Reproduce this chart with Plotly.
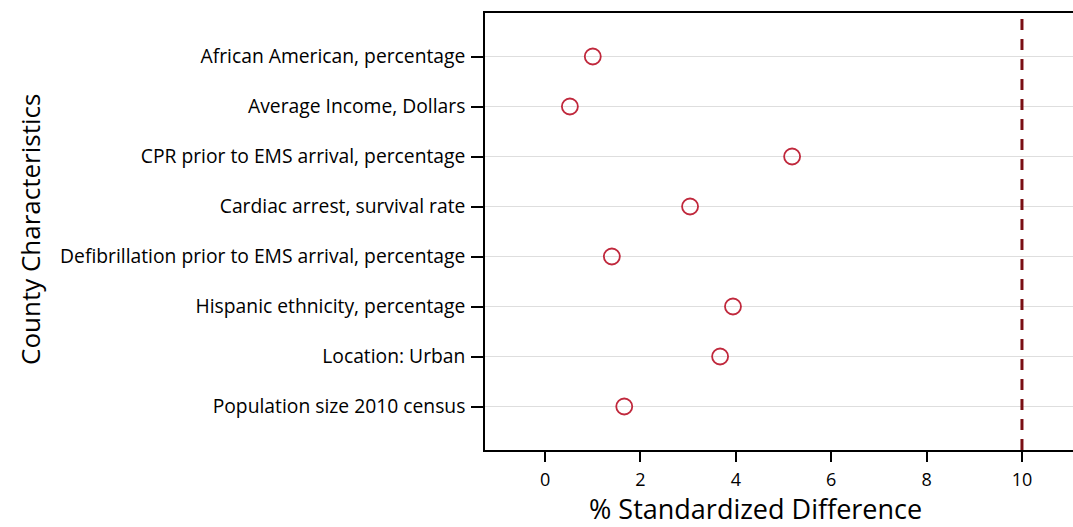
import plotly.graph_objects as go

categories = [
    "African American, percentage",
    "Average Income, Dollars",
    "CPR prior to EMS arrival, percentage",
    "Cardiac arrest, survival rate",
    "Defibrillation prior to EMS arrival, percentage",
    "Hispanic ethnicity, percentage",
    "Location: Urban",
    "Population size 2010 census",
]
std_diff = [1.00, 0.52, 5.18, 3.04, 1.40, 3.94, 3.67, 1.66]
x_ticks = [0, 2, 4, 6, 8, 10]
threshold = 10

ypos = list(range(len(categories)))
L, T, B, W, H = 485, 13, 77, 1073, 527
pw, ph = W - L, H - T - B

fig = go.Figure()
fig.add_trace(go.Scatter(
    x=std_diff, y=ypos, mode="markers",
    marker=dict(symbol="circle-open", size=16, color="#c0283c",
                line=dict(width=1.8, color="#c0283c")),
    showlegend=False,
))
fig.add_shape(type="line", x0=threshold, x1=threshold, y0=0, y1=1,
              xref="x", yref="paper",
              line=dict(color="#7a0f14", width=3, dash="11px,9px"))

fig.add_annotation(text="County Characteristics", textangle=-90,
                   xref="paper", yref="paper", x=(30 - L) / pw, y=(ph - (230 - T)) / ph,
                   xanchor="center", yanchor="middle", showarrow=False,
                   font=dict(size=26, color="black"))
fig.add_annotation(text="% Standardized Difference",
                   xref="paper", yref="paper", x=(755 - L) / pw, y=(ph - (509 - T)) / ph,
                   xanchor="center", yanchor="middle", showarrow=False,
                   font=dict(size=27, color="black"))

fig.update_layout(
    width=W, height=H,
    margin=dict(l=L, r=0, t=T, b=B),
    paper_bgcolor="white", plot_bgcolor="white",
    font=dict(family="Open Sans, Arial, sans-serif", color="black"),
    xaxis=dict(
        range=[-1.26, 11.07], tickvals=x_ticks,
        showgrid=False, zeroline=False,
        showline=True, linecolor="black", linewidth=1.5, mirror=True,
        ticks="outside", ticklen=10, tickwidth=1.5, tickcolor="black",
        tickfont=dict(size=18), ticklabelstandoff=3,
    ),
    yaxis=dict(
        range=[len(categories) - 1 + 0.87, -0.87],
        tickvals=ypos, ticktext=categories,
        showgrid=True, gridcolor="#dedede", gridwidth=1, zeroline=False,
        showline=True, linecolor="black", linewidth=1.5,
        ticks="outside", ticklen=12, tickwidth=1.5, tickcolor="black",
        tickfont=dict(size=19.3), ticklabelstandoff=2,
    ),
)
fig.write_html("out.html", config={"displayModeBar": False},
               post_script="document.body.style.margin='0';")
